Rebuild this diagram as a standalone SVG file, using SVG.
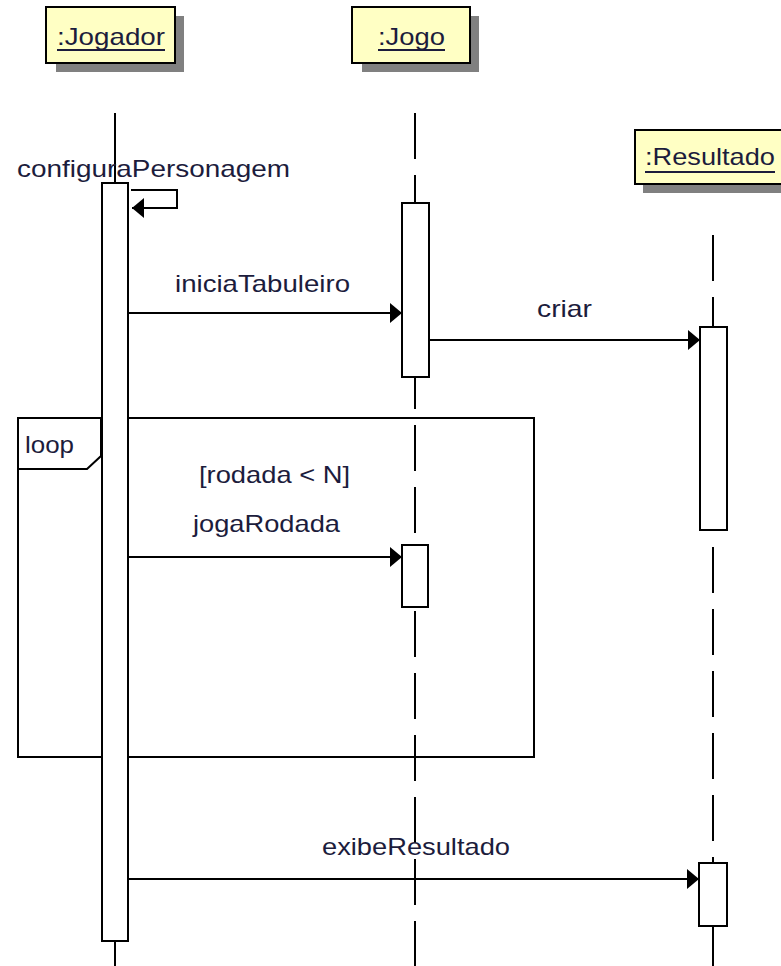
<svg xmlns="http://www.w3.org/2000/svg" width="781" height="966" viewBox="0 0 781 966">
<style>
.box{fill:#ffffc4;stroke:#000;stroke-width:2}
.shadow{fill:#808080;stroke:none}
.obj{font-family:"Liberation Sans",Arial,sans-serif;font-size:24px;fill:#1c1c3c}
.lbl{font-family:"Liberation Sans",Arial,sans-serif;font-size:24px;fill:#1c1c3c}
.ul{stroke:#1c1c3c;stroke-width:2}
.life{stroke:#000;stroke-width:2;fill:none}
.dash{stroke:#000;stroke-width:2;fill:none;stroke-dasharray:46 16}
.act{fill:#fff;stroke:#000;stroke-width:2}
.msg{stroke:#000;stroke-width:2;fill:none}
.frame{fill:none;stroke:#000;stroke-width:2}
</style>
<defs>
<marker id="arr" markerUnits="userSpaceOnUse" markerWidth="14" markerHeight="22" refX="12" refY="10" orient="auto">
<path d="M0,0 L12,10 L0,20 Z" fill="#000"/>
</marker>
</defs>
<rect width="781" height="966" fill="#fff"/>

<g id="loop">
<path class="frame" d="M18,418 H534 V757 H18 Z"/>
<path class="frame" d="M18,469 H87 L101,456 V418"/>
<text class="lbl" x="25" y="453" textLength="49" lengthAdjust="spacingAndGlyphs">loop</text>
<text class="lbl" x="199" y="483" textLength="151" lengthAdjust="spacingAndGlyphs">[rodada &lt; N]</text>
</g>

<g id="jogador">
<rect class="shadow" x="56" y="16" width="128" height="56"/>
<rect class="box" x="46" y="7" width="129" height="56"/>
<text class="obj" x="57" y="45" textLength="108" lengthAdjust="spacingAndGlyphs">:Jogador</text>
<line class="ul" x1="57" y1="50" x2="165" y2="50"/>
<line class="life" x1="115" y1="113" x2="115" y2="183"/>
<line class="life" x1="115" y1="941" x2="115" y2="966"/>
<rect class="act" x="102" y="183" width="26" height="758"/>
</g>

<g id="jogo">
<rect class="shadow" x="362" y="16" width="117" height="56"/>
<rect class="box" x="352" y="7" width="118" height="56"/>
<text class="obj" x="378" y="45" textLength="67" lengthAdjust="spacingAndGlyphs">:Jogo</text>
<line class="ul" x1="378" y1="50" x2="445" y2="50"/>
<line class="dash" x1="415" y1="113" x2="415" y2="203"/>
<line class="dash" x1="415" y1="377" x2="415" y2="545" stroke-dashoffset="14"/>
<line class="dash" x1="415" y1="611" x2="415" y2="966"/>
<rect class="act" x="402" y="203" width="27" height="174"/>
<rect class="act" x="402" y="545" width="26" height="62"/>
</g>

<g id="resultado">
<rect class="shadow" x="643" y="139" width="160" height="54"/>
<rect class="box" x="635" y="130" width="160" height="54"/>
<text class="obj" x="645" y="165" textLength="130" lengthAdjust="spacingAndGlyphs">:Resultado</text>
<line class="ul" x1="645" y1="172" x2="775" y2="172"/>
<line class="dash" x1="713" y1="235" x2="713" y2="327"/>
<line class="dash" x1="713" y1="547" x2="713" y2="863"/>
<line class="life" x1="713" y1="926" x2="713" y2="966"/>
<rect class="act" x="700" y="327" width="27" height="203"/>
<rect class="act" x="699" y="863" width="28" height="63"/>
</g>

<g id="connectors">
<path class="msg" d="M131,190 H177 V208 H132" marker-end="url(#arr)"/>
<text class="lbl" x="17" y="177" textLength="273" lengthAdjust="spacingAndGlyphs">configuraPersonagem</text>
<line class="msg" x1="128" y1="313" x2="402" y2="313" marker-end="url(#arr)"/>
<text class="lbl" x="175" y="292" textLength="175" lengthAdjust="spacingAndGlyphs">iniciaTabuleiro</text>
<line class="msg" x1="429" y1="340" x2="700" y2="340" marker-end="url(#arr)"/>
<text class="lbl" x="537" y="317" textLength="55" lengthAdjust="spacingAndGlyphs">criar</text>
<line class="msg" x1="128" y1="557" x2="402" y2="557" marker-end="url(#arr)"/>
<text class="lbl" x="193" y="532" textLength="147" lengthAdjust="spacingAndGlyphs">jogaRodada</text>
<line class="msg" x1="128" y1="879" x2="699" y2="879" marker-end="url(#arr)"/>
<text class="lbl" x="322" y="855" textLength="188" lengthAdjust="spacingAndGlyphs">exibeResultado</text>
</g>
</svg>
